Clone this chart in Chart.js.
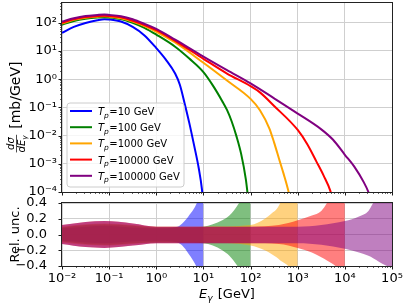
<!DOCTYPE html>
<html><head><meta charset="utf-8">
<script src="https://cdn.jsdelivr.net/npm/chart.js@4/dist/chart.umd.min.js"></script>
<style>
html,body{margin:0;padding:0;background:#fff;}
#wrap{position:relative;width:407px;height:305px;overflow:hidden;background:#fff;}
#top{position:absolute;left:0;top:0;}
#bot{position:absolute;left:0;top:195px;}
</style></head><body>
<div id="wrap"><canvas id="top" width="407" height="200"></canvas><canvas id="bot" width="407" height="110"></canvas></div>
<script>
// ---------- data ----------
const seriesTp = ['10', '100', '1000', '10000', '100000'];   // T_p in GeV
const seriesColors = ['#0000ff', '#008000', '#ffa500', '#ff0000', '#800080'];
const bandColors = ['rgba(0,0,255,0.5)', 'rgba(0,128,0,0.5)', 'rgba(255,165,0,0.5)', 'rgba(255,0,0,0.5)', 'rgba(128,0,128,0.5)'];

// dσ/dEγ [mb/GeV] vs Eγ [GeV]
const E_T10 = [0.01, 0.0178, 0.0316, 0.0562, 0.0794, 0.1, 0.178, 0.316, 0.562, 1, 1.58, 2.51, 3.16, 3.98, 5.01, 6.31, 7.94, 9.33, 10];
const xs_T10 = [43.7, 70.8, 97.7, 123, 134, 131, 110, 70.8, 35.5, 12.6, 5.01, 1.58, 0.631, 0.141, 0.0282, 0.00468, 7.08e-4, 1.2e-4, 3.16e-5];

const E_T100 = [0.01, 0.0178, 0.0316, 0.0562, 0.0794, 0.1, 0.178, 0.316, 0.562, 1, 2.51, 5.01, 10, 15.8, 25.1, 31.6, 39.8, 50.1, 63.1, 79.4, 91.2];
const xs_T100 = [85.1, 115, 138, 153, 157, 154, 135, 100, 66.1, 38, 14.1, 5.37, 1.78, 0.603, 0.166, 0.0813, 0.0316, 0.00955, 0.00224, 2.82e-4, 3.98e-5];

const E_T1000 = [0.01, 0.0178, 0.0316, 0.0562, 0.0794, 0.1, 0.178, 0.316, 0.562, 1, 2.51, 10, 31.6, 100, 158, 251, 316, 398, 501, 631, 741];
const xs_T1000 = [93.3, 126, 151, 164, 169, 165, 145, 110, 75.9, 47.9, 20, 3.8, 0.891, 0.2, 0.0794, 0.0178, 0.00562, 0.00158, 4.47e-4, 1.12e-4, 3.16e-5];

const E_T10000 = [0.01, 0.0178, 0.0316, 0.0562, 0.0794, 0.1, 0.178, 0.316, 0.562, 1, 2.51, 10, 31.6, 100, 158, 316, 1000, 1585, 2512, 3548, 4898, 5754];
const xs_T10000 = [100, 132, 158, 172, 177, 173, 155, 117, 83.2, 55, 22.9, 5.25, 1.58, 0.562, 0.339, 0.112, 0.0158, 0.00501, 0.00117, 3.8e-4, 1.12e-4, 3.98e-5];

const E_T100000 = [0.01, 0.0178, 0.0316, 0.0562, 0.0794, 0.1, 0.178, 0.316, 0.562, 1, 2.51, 10, 31.6, 100, 316, 1000, 3162, 5623, 10000, 15849, 25119, 31623, 38019];
const xs_T100000 = [110, 145, 174, 188, 194, 189, 170, 132, 91.2, 60.3, 25.1, 6.31, 2.09, 0.708, 0.209, 0.0603, 0.0166, 0.00708, 0.00209, 7.94e-4, 2.24e-4, 1e-4, 3.98e-5];

// relative uncertainty bands (upper / lower) vs Eγ [GeV]
const uE_T10 = [0.01, 0.0316, 0.0794, 0.316, 1, 2.82, 3.55, 4.79, 6.03, 7.24, 8.91, 10];
const uHi_T10 = [0.08, 0.10, 0.11, 0.09, 0.08, 0.10, 0.14, 0.23, 0.31, 0.40, 0.55, 0.65];
const uLo_T10 = [-0.08, -0.10, -0.11, -0.09, -0.08, -0.10, -0.14, -0.24, -0.33, -0.42, -0.57, -0.67];

const uE_T100 = [0.01, 0.0316, 0.0794, 0.316, 1, 3.16, 10, 15.8, 25.1, 35.5, 50.1, 63.1, 79.4, 100];
const uHi_T100 = [0.09, 0.12, 0.13, 0.11, 0.09, 0.09, 0.10, 0.13, 0.18, 0.24, 0.35, 0.45, 0.60, 0.80];
const uLo_T100 = [-0.09, -0.12, -0.13, -0.11, -0.10, -0.10, -0.11, -0.14, -0.20, -0.27, -0.38, -0.48, -0.62, -0.80];

const uE_T1000 = [0.01, 0.0316, 0.0794, 0.316, 1, 10, 100, 200, 282, 355, 427, 631, 1000];
const uHi_T1000 = [0.10, 0.13, 0.14, 0.12, 0.10, 0.10, 0.12, 0.20, 0.27, 0.32, 0.40, 0.60, 0.80];
const uLo_T1000 = [-0.10, -0.13, -0.14, -0.12, -0.10, -0.10, -0.14, -0.20, -0.25, -0.29, -0.33, -0.40, -0.55];

const uE_T10000 = [0.01, 0.0316, 0.0794, 0.316, 1, 10, 100, 398, 1000, 1995, 3162, 4169, 6310, 10000];
const uHi_T10000 = [0.12, 0.16, 0.17, 0.14, 0.10, 0.10, 0.10, 0.12, 0.18, 0.24, 0.30, 0.40, 0.60, 0.80];
const uLo_T10000 = [-0.12, -0.16, -0.17, -0.14, -0.11, -0.11, -0.11, -0.12, -0.17, -0.23, -0.29, -0.33, -0.40, -0.55];

const uE_T100000 = [0.01, 0.0316, 0.0794, 0.316, 1, 10, 100, 1000, 3162, 10000, 19953, 31623, 39811, 72444, 100000];
const uHi_T100000 = [0.12, 0.16, 0.17, 0.14, 0.10, 0.10, 0.10, 0.10, 0.12, 0.17, 0.23, 0.30, 0.40, 0.60, 0.70];
const uLo_T100000 = [-0.12, -0.16, -0.17, -0.14, -0.11, -0.11, -0.11, -0.11, -0.13, -0.18, -0.23, -0.27, -0.30, -0.39, -0.42];

const xTicks = [1e-2, 1e-1, 1e0, 1e1, 1e2, 1e3, 1e4, 1e5];
const yTicksTop = [1e-4, 1e-3, 1e-2, 1e-1, 1e0, 1e1, 1e2];
const yTicksBot = [-0.4, -0.2, 0.0, 0.2, 0.4];

// ---------- assembly ----------
const spectraE = [E_T10, E_T100, E_T1000, E_T10000, E_T100000];
const spectraY = [xs_T10, xs_T100, xs_T1000, xs_T10000, xs_T100000];
const bandE = [uE_T10, uE_T100, uE_T1000, uE_T10000, uE_T100000];
const bandHi = [uHi_T10, uHi_T100, uHi_T1000, uHi_T10000, uHi_T100000];
const bandLo = [uLo_T10, uLo_T100, uLo_T1000, uLo_T10000, uLo_T100000];

const FONT = "'DejaVu Sans', sans-serif";
Chart.defaults.font.family = FONT;
Chart.defaults.font.size = 13;
Chart.defaults.color = '#000';
const GRID = '#cfcfcf';

const SUP = {'-': '\u207b', '0': '\u2070', '1': '\u00b9', '2': '\u00b2', '3': '\u00b3', '4': '\u2074', '5': '\u2075', '6': '\u2076', '7': '\u2077', '8': '\u2078', '9': '\u2079'};
const sup = n => String(n).split('').map(c => SUP[c]).join('');
const powLabel = v => '10' + sup(Math.round(Math.log10(v)));
const pts = (E, Y) => E.map((e, j) => ({x: e, y: Y[j]}));

function logVals(min, max) {
  const out = [];
  for (let e = Math.floor(Math.log10(min)) - 1; e <= Math.ceil(Math.log10(max)); e++) {
    for (let k = 1; k < 10; k++) {
      const v = k * Math.pow(10, e);
      if (v >= min * 0.9999 && v <= max * 1.0001) out.push({v, major: k === 1});
    }
  }
  return out;
}

const fitY = s => { s.width = 62; s.paddingTop = 0; s.paddingBottom = 0; };

const frameTicks = {
  id: 'frameTicks',
  afterDraw(chart) {
    const {ctx, chartArea: a} = chart;
    ctx.save();
    ctx.strokeStyle = '#000';
    const drawAxis = (scale, horiz) => {
      const vals = scale.type === 'logarithmic' ? logVals(scale.min, scale.max)
        : scale.ticks.map(t => ({v: t.value, major: true}));
      for (const t of vals) {
        const p = Math.round(scale.getPixelForValue(t.v)) + 0.5;
        const len = t.major ? 3.5 : 2;
        ctx.lineWidth = t.major ? 0.9 : 0.6;
        ctx.beginPath();
        if (horiz) { ctx.moveTo(p, a.bottom); ctx.lineTo(p, a.bottom + len); }
        else { ctx.moveTo(a.left, p); ctx.lineTo(a.left - len, p); }
        ctx.stroke();
      }
    };
    drawAxis(chart.scales.x, true);
    drawAxis(chart.scales.y, false);
    ctx.lineWidth = 1;
    ctx.strokeStyle = '#222';
    ctx.strokeRect(a.left - 0.5, a.top - 0.5, a.right - a.left + 1, a.bottom - a.top + 1);
    ctx.restore();
  }
};

// legend + y label for top panel
const topDecor = {
  id: 'topDecor',
  afterDraw(chart) {
    const ctx = chart.ctx;
    ctx.save();
    const bx = 67, by = 103, bw = 117, bh = 84, r = 3;
    ctx.beginPath();
    ctx.moveTo(bx + r, by); ctx.lineTo(bx + bw - r, by); ctx.arcTo(bx + bw, by, bx + bw, by + r, r);
    ctx.lineTo(bx + bw, by + bh - r); ctx.arcTo(bx + bw, by + bh, bx + bw - r, by + bh, r);
    ctx.lineTo(bx + r, by + bh); ctx.arcTo(bx, by + bh, bx, by + bh - r, r);
    ctx.lineTo(bx, by + r); ctx.arcTo(bx, by, bx + r, by, r); ctx.closePath();
    ctx.fillStyle = 'rgba(255,255,255,0.8)'; ctx.fill();
    ctx.strokeStyle = '#cccccc'; ctx.lineWidth = 1; ctx.stroke();
    ctx.textBaseline = 'alphabetic';
    seriesTp.forEach((tp, i) => {
      const y = 111 + i * 16.2;
      ctx.strokeStyle = seriesColors[i]; ctx.lineWidth = 2;
      ctx.beginPath(); ctx.moveTo(70, y); ctx.lineTo(92, y); ctx.stroke();
      ctx.fillStyle = '#000';
      let x = 98;
      const base = y + 4;
      ctx.font = 'italic 10px ' + FONT; ctx.fillText('T', x, base); x += ctx.measureText('T').width;
      ctx.font = 'italic 7.5px ' + FONT; ctx.fillText('p', x, base + 2.5); x += ctx.measureText('p').width + 0.5;
      ctx.font = '10px ' + FONT; ctx.fillText('=' + tp + ' GeV', x, base);
    });
    ctx.restore();
    // y-axis label: dσ/dEγ [mb/GeV]
    ctx.save();
    ctx.setTransform(1, 0, 0, 1, 0, 0);
    ctx.translate(16, 107);
    ctx.rotate(-Math.PI / 2);
    ctx.fillStyle = '#000';
    ctx.font = '14px ' + FONT;
    const lbl = '[mb/GeV]';
    const lw = ctx.measureText(lbl).width;
    ctx.font = 'italic 10px ' + FONT;
    const numW = ctx.measureText('d\u03c3').width;
    const dEw = ctx.measureText('dE').width;
    const denW = dEw + 5;
    const fw = Math.max(numW, denW);
    const total = fw + 6 + lw;
    const x0 = -total / 2;
    ctx.textAlign = 'left';
    ctx.textBaseline = 'alphabetic';
    ctx.fillText('d\u03c3', x0 + (fw - numW) / 2, -2.5);
    ctx.fillText('dE', x0 + (fw - denW) / 2, 9);
    ctx.font = 'italic 7px ' + FONT;
    ctx.fillText('\u03b3', x0 + (fw - denW) / 2 + dEw, 11);
    ctx.lineWidth = 0.7; ctx.strokeStyle = '#000';
    ctx.beginPath(); ctx.moveTo(x0, 0.5); ctx.lineTo(x0 + fw, 0.5); ctx.stroke();
    ctx.font = '14px ' + FONT;
    ctx.textBaseline = 'middle';
    ctx.fillText(lbl, x0 + fw + 6, 0);
    ctx.restore();
  }
};

const botDecor = {
  id: 'botDecor',
  afterDraw(chart) {
    const ctx = chart.ctx;
    ctx.save();
    ctx.setTransform(1, 0, 0, 1, 0, 0);
    ctx.fillStyle = '#000';
    ctx.font = 'italic 13px ' + FONT;
    const wE = ctx.measureText('E').width;
    ctx.font = 'italic 9px ' + FONT;
    const wg = ctx.measureText('\u03b3').width;
    ctx.font = '13px ' + FONT;
    const wr = ctx.measureText(' [GeV]').width;
    const tot = wE + wg + 1 + wr;
    let x = 227 - tot / 2;
    const base = 103;
    ctx.textAlign = 'left';
    ctx.textBaseline = 'alphabetic';
    ctx.font = 'italic 13px ' + FONT; ctx.fillText('E', x, base); x += wE;
    ctx.font = 'italic 9px ' + FONT; ctx.fillText('\u03b3', x, base + 3); x += wg + 1;
    ctx.font = '13px ' + FONT; ctx.fillText(' [GeV]', x, base);
    ctx.translate(16, 39.5);
    ctx.rotate(-Math.PI / 2);
    ctx.textAlign = 'center'; ctx.textBaseline = 'middle';
    ctx.fillText('Rel. unc.', 0, 0);
    ctx.restore();
  }
};

// ---------- top chart ----------
new Chart(document.getElementById('top'), {
  type: 'line',
  data: {
    datasets: seriesTp.map((tp, i) => ({
      label: 'T_p=' + tp + ' GeV',
      data: pts(spectraE[i], spectraY[i]),
      borderColor: seriesColors[i],
      backgroundColor: seriesColors[i],
      borderWidth: 2,
      pointRadius: 0,
      fill: false,
      cubicInterpolationMode: 'monotone',
      order: 10 - i
    }))
  },
  options: {
    responsive: false, animation: false, events: [],
    layout: {padding: {top: 3, right: 15, bottom: 8, left: 0}},
    plugins: {legend: {display: false}, tooltip: {enabled: false}},
    scales: {
      x: {
        type: 'logarithmic', min: 1e-2, max: 1e5,
        afterBuildTicks: s => { s.ticks = xTicks.map(v => ({value: v})); },
        afterFit: s => { s.height = 0; s.paddingLeft = 0; s.paddingRight = 0; },
        ticks: {display: false},
        grid: {color: GRID, lineWidth: 1, drawTicks: false},
        border: {display: false}
      },
      y: {
        type: 'logarithmic', min: 1e-4, max: 500,
        afterBuildTicks: s => { s.ticks = yTicksTop.map(v => ({value: v})); },
        afterFit: fitY,
        ticks: {callback: v => powLabel(v), padding: 5, autoSkip: false, font: {size: 13}},
        grid: {color: GRID, lineWidth: 1, drawTicks: false},
        border: {display: false}
      }
    }
  },
  plugins: [frameTicks, topDecor]
});

// ---------- bottom chart ----------
const botSets = [];
seriesTp.forEach((tp, i) => {
  const idx = botSets.length;
  botSets.push({
    label: 'unc+ ' + tp, data: pts(bandE[i], bandHi[i]),
    borderWidth: 0, borderColor: 'rgba(0,0,0,0)', pointRadius: 0,
    backgroundColor: bandColors[i], fill: idx + 1,
    cubicInterpolationMode: 'monotone', order: 10 - i
  });
  botSets.push({
    label: 'unc- ' + tp, data: pts(bandE[i], bandLo[i]),
    borderWidth: 0, borderColor: 'rgba(0,0,0,0)', pointRadius: 0,
    fill: false, cubicInterpolationMode: 'monotone', order: 10 - i
  });
});

new Chart(document.getElementById('bot'), {
  type: 'line',
  data: {datasets: botSets},
  options: {
    responsive: false, animation: false, events: [],
    layout: {padding: {top: 8, right: 15, bottom: 0, left: 0}},
    plugins: {legend: {display: false}, tooltip: {enabled: false}, filler: {propagate: false}},
    scales: {
      x: {
        type: 'logarithmic', min: 1e-2, max: 1e5, z: 1,
        afterBuildTicks: s => { s.ticks = xTicks.map(v => ({value: v})); },
        afterFit: s => { s.height = 39; s.paddingLeft = 0; s.paddingRight = 0; },
        ticks: {callback: v => powLabel(v), padding: 5, autoSkip: false, maxRotation: 0, font: {size: 13}},
        grid: {color: GRID, lineWidth: 1, drawTicks: false},
        border: {display: false}
      },
      y: {
        type: 'linear', min: -0.4, max: 0.4, z: 1,
        afterBuildTicks: s => { s.ticks = yTicksBot.map(v => ({value: v})); },
        afterFit: fitY,
        ticks: {
          callback: v => (Math.abs(v) < 1e-9 ? '0.0' : (v < 0 ? '\u2212' : '') + Math.abs(v).toFixed(1)),
          padding: 15, autoSkip: false, font: {size: 13}
        },
        grid: {color: GRID, lineWidth: 1, drawTicks: false},
        border: {display: false}
      }
    }
  },
  plugins: [frameTicks, botDecor]
});
</script>
</body></html>
